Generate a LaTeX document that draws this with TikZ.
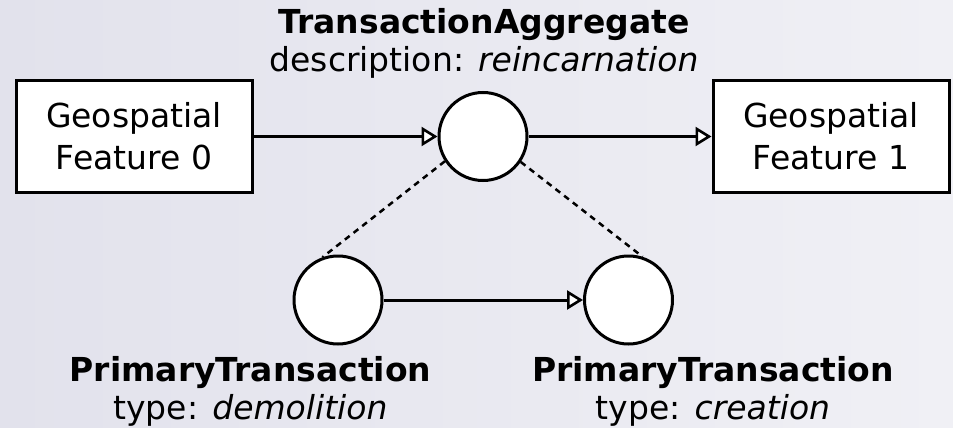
\documentclass[tikz,border=0pt]{standalone}
\usepackage{fontspec}
\setmainfont{DejaVu Sans}
\usetikzlibrary{arrows.meta}
\definecolor{bgleft}{RGB}{226,226,236}
\definecolor{bgmid}{RGB}{228,228,238}
\definecolor{bgright}{RGB}{240,240,245}
\tikzset{
  featbox/.style={draw, line width=3pt, fill=white, minimum width=236pt, minimum height=112pt,
    inner sep=0pt, align=center, font=\fontsize{33}{41.7}\selectfont},
  txnode/.style={draw, line width=3pt, fill=white, circle, minimum size=88pt, inner sep=0pt},
  lbl/.style={align=center, inner sep=0pt, anchor=base, font=\fontsize{33}{38.5}\selectfont},
  flow/.style={line width=3pt, -{Triangle[length=16pt, width=19pt, fill=white, line width=2.6pt]}},
  member/.style={line width=2.5pt, dash pattern=on 6pt off 5pt}
}
\begin{document}
\begin{tikzpicture}[x=1pt, y=-1pt]
\useasboundingbox (0,0) rectangle (953,428);
\shade[left color=bgleft, middle color=bgmid, right color=bgright] (0,0) rectangle (953,428);

\node[featbox] (f0) at (134,136.5) {Geospatial\\Feature 0};
\node[featbox] (f1) at (831,136.5) {Geospatial\\Feature 1};
\node[txnode] (agg) at (483,136.5) {};
\node[txnode] (pt0) at (338,300) {};
\node[txnode] (pt1) at (628.5,300) {};

\node[lbl] (aggl) at (484,72) {\textbf{TransactionAggregate}\\description: \textit{reincarnation}};
\node[lbl] (pt0l) at (250.5,419.5) {\textbf{PrimaryTransaction}\\type: \textit{demolition}};
\node[lbl] (pt1l) at (713,419.5) {\textbf{PrimaryTransaction}\\type: \textit{creation}};

\draw[flow] (f0.east) -- (agg.west);
\draw[flow] (agg.east) -- (f1.west);
\draw[flow] (pt0.east) -- (pt1.west);
\draw[member] (agg.213) -- (pt0.110);
\draw[member] (agg.326) -- (pt1.72);
\end{tikzpicture}
\end{document}
